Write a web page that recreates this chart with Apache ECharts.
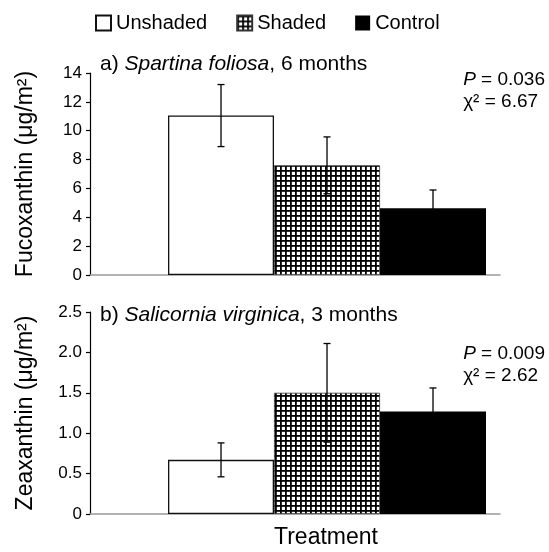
<!DOCTYPE html>
<html><head><meta charset="utf-8">
<script src="https://cdn.jsdelivr.net/npm/echarts@6/dist/echarts.min.js"></script>
<style>html,body{margin:0;padding:0;background:#fff}#c{width:549px;height:552px}</style>
</head><body><div id="c"></div>
<script>
// ---- data ----
const categories = ['Unshaded', 'Shaded', 'Control'];
const fucoMean = [11.05, 7.6, 4.62];
const fucoErr = [2.15, 1.97, 1.27];
const zeaMean = [0.67, 1.50, 1.27];
const zeaErr = [0.21, 0.61, 0.29];
const fucoTicks = [0, 2, 4, 6, 8, 10, 12, 14];
const zeaTicks = [0, 0.5, 1.0, 1.5, 2.0, 2.5];

// ---- layout ----
const FONT = '"Liberation Sans", Arial, sans-serif';
const gridW = 410;
const xMin = -1.236, xMax = 2.632;
const unitPx = gridW / (xMax - xMin);

const pc = document.createElement('canvas');
pc.width = 5; pc.height = 5;
const g = pc.getContext('2d');
g.fillStyle = '#fff'; g.fillRect(0, 0, 5, 5);
g.fillStyle = '#000'; g.fillRect(0, 0, 5, 1.8); g.fillRect(0, 0, 1.8, 5);

const styles = [
  { color: '#fff', borderColor: '#111', borderWidth: 1.3 },
  { color: { image: pc, repeat: 'repeat' }, borderColor: '#333', borderWidth: 0.8 },
  { color: '#000' }
];

function bars(means, k) {
  return categories.map((c, i) => ({
    type: 'bar', name: c, xAxisIndex: k, yAxisIndex: k,
    barWidth: unitPx, barGap: '-100%', silent: true,
    data: [[i, means[i]]], itemStyle: styles[i]
  }));
}
function errs(means, e, k) {
  return {
    type: 'custom', xAxisIndex: k, yAxisIndex: k, z: 10, silent: true,
    data: means.map((m, i) => [i, m - e[i], m + e[i]]),
    encode: { x: 0, y: [1, 2] },
    renderItem: (p, api) => {
      const x = api.value(0);
      const lo = api.coord([x, api.value(1)]);
      const hi = api.coord([x, api.value(2)]);
      const w = 3.5, st = { stroke: '#000', lineWidth: 1.3 };
      return { type: 'group', children: [
        { type: 'line', shape: { x1: lo[0], y1: lo[1], x2: hi[0], y2: hi[1] }, style: st },
        { type: 'line', shape: { x1: hi[0] - w, y1: hi[1], x2: hi[0] + w, y2: hi[1] }, style: st },
        { type: 'line', shape: { x1: lo[0] - w, y1: lo[1], x2: lo[0] + w, y2: lo[1] }, style: st }
      ] };
    }
  };
}
function xAxis(k) {
  return { type: 'value', gridIndex: k, min: xMin, max: xMax,
    axisLine: { onZero: false, lineStyle: { color: '#999', width: 1.5 } },
    axisTick: { show: false }, axisLabel: { show: false }, splitLine: { show: false } };
}
function yAxis(k, ticks, name, fmt) {
  return { type: 'value', gridIndex: k, min: ticks[0], max: ticks[ticks.length - 1],
    interval: ticks[1] - ticks[0],
    axisLine: { show: true, onZero: false, lineStyle: { color: '#000', width: 1.2 } },
    axisTick: { show: true, length: 4, lineStyle: { color: '#000', width: 1.2 } },
    axisLabel: { color: '#000', fontSize: 17, margin: 8, fontFamily: FONT, formatter: fmt },
    splitLine: { show: false },
    name: name, nameLocation: 'middle', nameGap: 53,
    nameTextStyle: { fontSize: 23, color: '#000', fontFamily: FONT } };
}
const rich = {
  n: { fontSize: 21, fontFamily: FONT, color: '#000', fontWeight: 'normal' },
  i: { fontSize: 21, fontFamily: FONT, color: '#000', fontWeight: 'normal', fontStyle: 'italic' }
};
const srich = {
  n: { fontSize: 19, fontFamily: FONT, color: '#000', fontWeight: 'normal', lineHeight: 22 },
  i: { fontSize: 19, fontFamily: FONT, color: '#000', fontWeight: 'normal', fontStyle: 'italic', lineHeight: 22 }
};

const chart = echarts.init(document.getElementById('c'));
chart.setOption({
  backgroundColor: '#fff',
  animation: false,
  legend: {
    data: categories.map(n => ({ name: n, icon: 'rect' })), left: 95, top: 13, padding: 0,
    itemWidth: 15, itemHeight: 15, itemGap: 29,
    textStyle: { fontSize: 20, color: '#000', fontFamily: FONT },
    selectedMode: false
  },
  title: [
    { text: '{n|a) }{i|Spartina foliosa}{n|, 6 months}', left: 100, top: 54, padding: 0,
      textStyle: { fontWeight: 'normal', rich } },
    { text: '{n|b) }{i|Salicornia virginica}{n|, 3 months}', left: 100, top: 305, padding: 0,
      textStyle: { fontWeight: 'normal', rich } },
    { text: '{i|P}{n| = 0.036}\n{n|χ² = 6.67}', right: 4, top: 69, padding: 0,
      textStyle: { fontWeight: 'normal', rich: srich } },
    { text: '{i|P}{n| = 0.009}\n{n|χ² = 2.62}', right: 4, top: 343, padding: 0,
      textStyle: { fontWeight: 'normal', rich: srich } },
    { text: 'Treatment', left: 326, top: 526, padding: 0, textAlign: 'center',
      textStyle: { fontSize: 23, fontWeight: 'normal', color: '#000', fontFamily: FONT } }
  ],
  grid: [
    { left: 90, top: 73, width: gridW, height: 202 },
    { left: 90, top: 312, width: gridW, height: 202 }
  ],
  xAxis: [xAxis(0), xAxis(1)],
  yAxis: [
    yAxis(0, fucoTicks, 'Fucoxanthin (μg/m²)', v => String(v)),
    yAxis(1, zeaTicks, 'Zeaxanthin (μg/m²)', v => v === 0 ? '0' : v.toFixed(1))
  ],
  series: [
    ...bars(fucoMean, 0), errs(fucoMean, fucoErr, 0),
    ...bars(zeaMean, 1), errs(zeaMean, zeaErr, 1)
  ]
});
</script></body></html>
